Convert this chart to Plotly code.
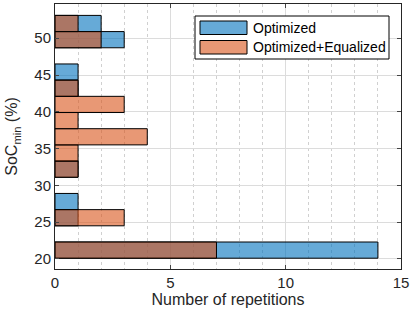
import plotly.graph_objects as go

# Histogram bins (SoC_min %), lower edges, width 2.2
bin_lower = [20.1, 22.3, 24.5, 26.7, 28.9, 31.1, 33.3, 35.5, 37.7, 39.9, 42.1, 44.3, 46.5, 48.7, 50.9]
bin_width = 2.2
optimized = [14, 0, 1, 1, 0, 1, 0, 0, 0, 0, 1, 1, 0, 3, 2]
optimized_equalized = [7, 0, 3, 0, 0, 1, 1, 4, 1, 3, 1, 0, 0, 2, 1]
series_names = ["Optimized", "Optimized+Equalized"]
series_colors = ["rgba(0,114,189,0.6)", "rgba(217,83,25,0.6)"]
x_ticks = [0, 5, 10, 15]
y_ticks = [20, 25, 30, 35, 40, 45, 50]

W, H = 416, 316
L, R, T, B = 55, 15, 4, 47
PW, PH = W - L - R, H - T - B

centers = [b + bin_width / 2 for b in bin_lower]


def nz(vals):
    ys = [c for c, v in zip(centers, vals) if v > 0]
    xs = [v for v in vals if v > 0]
    return xs, ys


fig = go.Figure()
for name, vals, col in zip(series_names, [optimized, optimized_equalized], series_colors):
    xs, ys = nz(vals)
    fig.add_trace(go.Bar(
        x=xs, y=ys, orientation="h", width=bin_width, name=name,
        marker=dict(color=col, line=dict(color="black", width=1)),
        showlegend=False,
    ))


# pixel -> paper helpers for the legend box
def px(x):
    return (x - L) / PW


def py(y):
    return (T + PH - y) / PH


shapes = [dict(type="rect", xref="paper", yref="paper",
               x0=px(195), x1=px(389), y0=py(59), y1=py(16),
               line=dict(color="black", width=1), fillcolor="white", layer="above")]
annotations = []
for i, (name, col) in enumerate(zip(series_names, series_colors)):
    top = 21 + i * 19.5
    shapes.append(dict(type="rect", xref="paper", yref="paper",
                       x0=px(200), x1=px(247), y0=py(top + 13.5), y1=py(top),
                       line=dict(color="black", width=1), fillcolor=col, layer="above"))
    annotations.append(dict(xref="paper", yref="paper", x=px(251), y=py(top + 7),
                            xanchor="left", yanchor="middle", text=name, showarrow=False,
                            font=dict(size=14, color="black")))

font_col = "#262626"
fig.update_layout(
    width=W, height=H,
    margin=dict(l=L, r=R, t=T, b=B),
    paper_bgcolor="white", plot_bgcolor="white",
    barmode="overlay",
    showlegend=False,
    shapes=shapes,
    annotations=annotations,
    font=dict(family="Liberation Sans, Arial", size=15, color=font_col),
    xaxis=dict(
        range=[0, 15], tickvals=x_ticks, ticks="inside", ticklen=4,
        showline=True, linecolor=font_col, linewidth=1, mirror="ticks",
        showgrid=True, gridcolor="#dcdcdc", zeroline=False, automargin=False,
        minor=dict(dtick=1, showgrid=True, gridcolor="#d0d0d0", griddash="dot", ticks=""),
        title=dict(text="Number of repetitions", standoff=1, font=dict(size=16)),
    ),
    yaxis=dict(
        range=[18.63, 54.65], tickvals=y_ticks, ticks="inside", ticklen=4,
        showline=True, linecolor=font_col, linewidth=1, mirror="ticks",
        showgrid=True, gridcolor="#dcdcdc", zeroline=False, automargin=False,
        title=dict(text="SoC<sub>min</sub> (%)", standoff=12, font=dict(size=16)),
    ),
)

fig.write_html("out.html", config={"displayModeBar": False},
               post_script="document.body.style.margin='0';document.body.style.overflow='hidden';")
